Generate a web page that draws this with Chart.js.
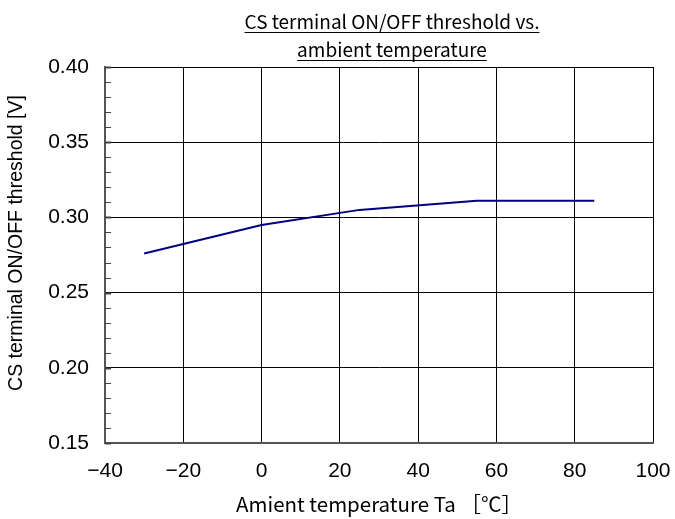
<!DOCTYPE html>
<html>
<head>
<meta charset="utf-8">
<script src="https://cdn.jsdelivr.net/npm/chart.js@4.4.1/dist/chart.umd.min.js"></script>
<style>
  html, body { margin: 0; padding: 0; background: #fff; }
  #wrap { width: 675px; height: 519px; }
</style>
</head>
<body>
<div id="wrap"><canvas id="myChart" width="675" height="519"></canvas></div>
<script>
// data
const temps = [-30, 0, 25, 55, 85];
const thresholds = [0.276, 0.295, 0.305, 0.311, 0.311];
const titleLines = ['CS terminal ON/OFF threshold vs.', 'ambient temperature'];
const xTitle = 'Amient temperature Ta ［℃］';
const yTitle = 'CS terminal ON/OFF threshold [V]';
const yMinorStep = 0.01;

const jpFont = '"Noto Sans CJK JP", "Noto Sans", sans-serif';
const numFont = '"Liberation Sans", Arial, sans-serif';

// title with underline, plus the rotated y title
const titlePlugin = {
    id: 'ulTitle',
    afterDraw(chart) {
        const c = chart.ctx;
        const cx = (chart.chartArea.left + chart.chartArea.right) / 2 + 13;
        c.save();
        c.font = '19px ' + jpFont;
        c.fillStyle = '#000';
        c.strokeStyle = '#000';
        c.lineWidth = 1;
        c.textAlign = 'center';
        c.textBaseline = 'alphabetic';
        titleLines.forEach((t, i) => {
            const y = 29 + i * 28;
            c.fillText(t, cx, y);
            const w = c.measureText(t).width;
            c.beginPath();
            c.moveTo(cx - w / 2, y + 3.5);
            c.lineTo(cx + w / 2, y + 3.5);
            c.stroke();
        });
        // y axis title
        c.translate(17, 243);
        c.rotate(-Math.PI / 2);
        c.font = '19.5px ' + numFont;
        c.textBaseline = 'middle';
        c.fillText(yTitle, 0, 0);
        c.restore();
    }
};

// small inside ticks on the y axis
const minorTicks = {
    id: 'minorTicks',
    afterDraw(chart) {
        const y = chart.scales.y;
        const left = chart.chartArea.left;
        const c = chart.ctx;
        c.save();
        c.strokeStyle = '#444';
        for (let v = y.min; v <= y.max + 1e-9; v += yMinorStep) {
            const major = Math.abs(v / 0.05 - Math.round(v / 0.05)) < 1e-6;
            const py = Math.round(y.getPixelForValue(v)) + 0.5;
            c.lineWidth = major ? 2 : 1;
            c.beginPath();
            c.moveTo(left, py);
            c.lineTo(left + 6, py);
            c.stroke();
        }
        c.restore();
    }
};

const ctx = document.getElementById('myChart');
new Chart(ctx, {
    type: 'scatter',
    data: {
        datasets: [{
            data: temps.map((t, i) => ({ x: t, y: thresholds[i] })),
            showLine: true,
            borderColor: '#000080',
            borderWidth: 2,
            pointRadius: 0,
            tension: 0
        }]
    },
    options: {
        responsive: false,
        animation: false,
        layout: { padding: { top: 67, right: 22, left: 0, bottom: 0 } },
        plugins: { legend: { display: false }, tooltip: { enabled: false } },
        scales: {
            x: {
                min: -40, max: 100,
                afterFit(s) { s.height = 76; s.paddingLeft = 0; s.paddingRight = 0; },
                ticks: {
                    stepSize: 20,
                    color: '#000',
                    padding: 16,
                    maxRotation: 0,
                    font: { family: numFont, size: 21 },
                    callback: v => String(v).replace('-', '−')
                },
                grid: { color: '#000', lineWidth: 1, drawTicks: false },
                border: { color: '#555', width: 2 },
                title: {
                    display: true, text: xTitle, color: '#000',
                    font: { family: jpFont, size: 20.5 },
                    padding: { top: 2, bottom: 2 }
                }
            },
            y: {
                min: 0.15, max: 0.40,
                afterFit(s) { s.width = 105; s.paddingTop = 0; s.paddingBottom = 0; },
                ticks: {
                    stepSize: 0.05,
                    color: '#000',
                    padding: 16,
                    font: { family: numFont, size: 21 },
                    callback: v => v.toFixed(2)
                },
                grid: { color: '#000', lineWidth: 1, drawTicks: false },
                border: { color: '#555', width: 2 }
            }
        }
    },
    plugins: [titlePlugin, minorTicks]
});
</script>
</body>
</html>
